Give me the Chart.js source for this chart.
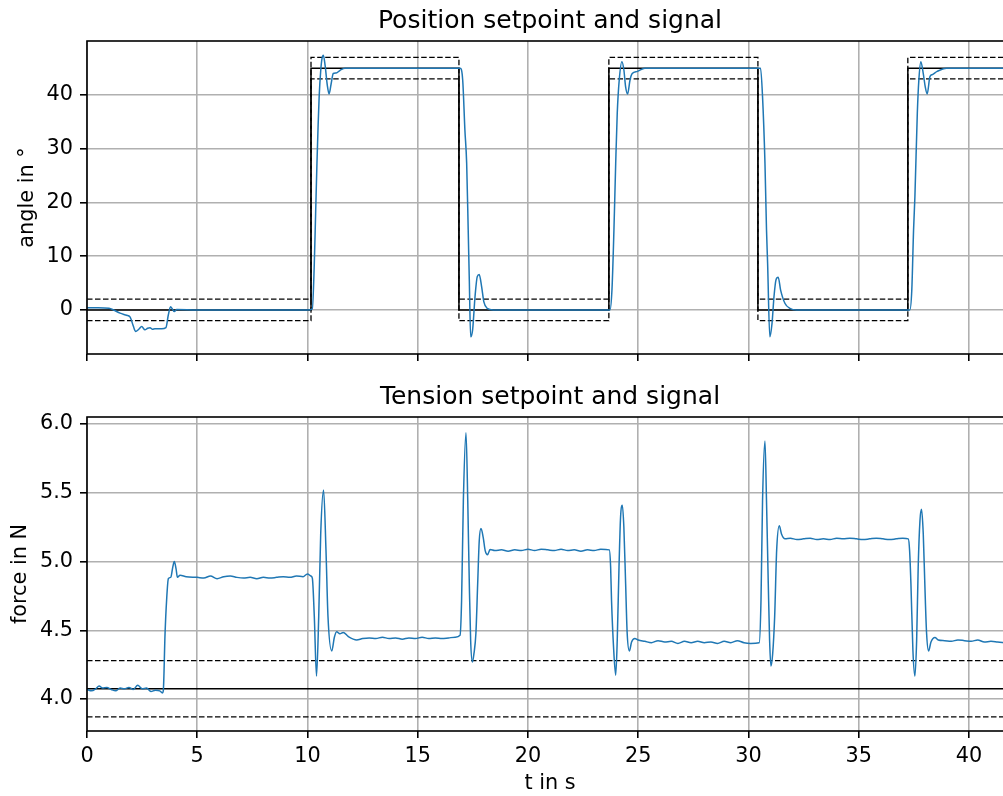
<!DOCTYPE html>
<html>
<head>
<meta charset="utf-8">
<title>Position and tension setpoint and signal</title>
<script src="https://cdn.jsdelivr.net/npm/chart.js@4.4.1/dist/chart.umd.min.js"></script>
<style>
  html, body { margin: 0; padding: 0; background: #fff; overflow: hidden; }
  body { width: 1003px; height: 796px; position: relative; }
  canvas { position: absolute; left: 0; }
  #posChart { top: 0; }
  #tenChart { top: 376px; }
</style>
</head>
<body>
<canvas id="posChart" width="1013" height="376"></canvas>
<canvas id="tenChart" width="1013" height="420"></canvas>
<script>
// x axis ticks (seconds)
const timeTicks = [0, 5, 10, 15, 20, 25, 30, 35, 40];
const angleTicks = [0, 10, 20, 30, 40];
const forceTicks = [4.0, 4.5, 5.0, 5.5, 6.0];

// Position setpoint and tolerance band (step times in s, angle in deg)
const posSpT = [0, 10.16, 10.16, 16.87, 16.87, 23.67, 23.67, 30.43, 30.43, 37.23, 37.23, 42];
const posSp  = [0, 0, 45, 45, 0, 0, 45, 45, 0, 0, 45, 45];
const posUp  = [2, 2, 47, 47, 2, 2, 47, 47, 2, 2, 47, 47];
const posLo  = [-2, -2, 43, 43, -2, -2, 43, 43, -2, -2, 43, 43];

// Position signal
const posT = [0, 0.5, 1.0, 1.2, 1.5, 1.8, 1.95, 2.1, 2.2, 2.35, 2.48, 2.63, 2.75, 2.86, 2.97, 3.08, 3.2, 3.39, 3.58, 3.69, 3.79, 3.96, 4.07, 5, 6, 7, 8, 9, 10, 10.22,
  10.31, 10.37, 10.43, 10.48, 10.53, 10.6, 10.66, 10.72, 10.8, 10.9, 10.98, 11.07, 11.17, 11.3, 11.48, 11.7, 13, 15,
  16.93, 17.04, 17.14, 17.22, 17.29, 17.34, 17.4, 17.49, 17.6, 17.7, 17.79, 17.9, 18.0, 18.15, 18.43, 20, 22,
  23.72, 23.81, 23.9, 23.98, 24.05, 24.14, 24.26, 24.35, 24.43, 24.52, 24.63, 24.73, 24.96, 25.3, 27, 29,
  30.55, 30.64, 30.75, 30.82, 30.87, 30.97, 31.07, 31.16, 31.25, 31.35, 31.46, 31.66, 31.88, 32.19, 34, 36,
  37.32, 37.41, 37.49, 37.55, 37.66, 37.73, 37.82, 37.93, 38.02, 38.11, 38.23, 38.34, 38.56, 38.99, 40.5, 42];
const posA = [0.4, 0.4, 0.3, 0.0, -0.6, -1.0, -1.3, -3.0, -4.0, -3.6, -3.1, -3.7, -3.4, -3.3, -3.6, -3.5, -3.5, -3.5, -3.3, -0.9, 0.6, -0.3, 0.1, 0, 0, 0, 0, 0, 0, 0.2,
  8.7, 18, 27.3, 34, 39.7, 44.5, 46.8, 47.4, 45.5, 41.8, 40.2, 42, 44.0, 44.1, 44.6, 45, 45, 45,
  45, 42.8, 33.5, 27.3, 14.9, 5.6, -5.0, -3.7, 2.5, 6.2, 6.6, 4.3, 1.5, 0.3, 0, 0, 0,
  0, 3.7, 14.9, 27.3, 36.6, 42.8, 46.2, 44.7, 41.5, 40.2, 42.8, 44.0, 44.4, 45, 45, 45,
  45, 39.7, 27.3, 14.9, 8.7, -5.0, -2.5, 2.5, 5.6, 6.1, 3.7, 1.2, 0.3, 0, 0, 0,
  0, 3.7, 14.9, 21, 36.6, 42.8, 46.2, 44.0, 41.5, 40.2, 43.4, 43.8, 44.4, 45, 45, 45];

// Tension setpoint and +-5 % band (N)
const tenSpT = [0, 42];
const tenSp  = [4.075, 4.075];
const tenUp  = [4.28, 4.28];
const tenLo  = [3.87, 3.87];

// Tension signal
const tenT = [0, 0.2, 0.4, 0.55, 0.7, 0.9, 1.1, 1.3, 1.5, 1.7, 1.9, 2.1, 2.3, 2.5, 2.7, 2.9, 3.1, 3.3, 3.42, 3.46,
  3.54, 3.61, 3.69, 3.8, 3.89, 3.96, 4.04, 4.1, 4.22,
  4.5, 5.0, 5.3, 5.6, 5.9, 6.2, 6.5, 6.8, 7.1, 7.4, 7.7, 8.0, 8.3, 8.6, 8.9, 9.2, 9.5, 9.8, 10.0, 10.15,
  10.22, 10.31, 10.41, 10.51, 10.6, 10.73, 10.84, 10.93, 11.1, 11.22, 11.32, 11.47, 11.62, 11.85, 12.23,
  12.5, 12.8, 13.1, 13.4, 13.7, 14.0, 14.3, 14.6, 14.9, 15.2, 15.5, 15.8, 16.1, 16.4, 16.7, 16.92,
  16.99, 17.07, 17.19, 17.27, 17.34, 17.4, 17.48, 17.55, 17.64, 17.72, 17.79, 17.87, 17.97, 18.06, 18.17, 18.28,
  18.5, 18.8, 19.1, 19.4, 19.7, 20.0, 20.3, 20.6, 20.9, 21.2, 21.5, 21.8, 22.1, 22.4, 22.7, 23.0, 23.3, 23.69,
  23.75, 23.79, 23.89, 23.98, 24.05, 24.13, 24.2, 24.28, 24.35, 24.43, 24.5, 24.6, 24.7, 24.85, 25.0,
  25.3, 25.6, 25.9, 26.2, 26.5, 26.8, 27.1, 27.4, 27.7, 28.0, 28.3, 28.6, 28.9, 29.2, 29.5, 29.8, 30.1, 30.49,
  30.57, 30.64, 30.75, 30.82, 30.9, 30.96, 31.02, 31.1, 31.19, 31.28, 31.4, 31.5, 31.66,
  31.9, 32.2, 32.5, 32.8, 33.1, 33.4, 33.7, 34.0, 34.3, 34.6, 34.9, 35.2, 35.5, 35.8, 36.1, 36.4, 36.7, 37.0, 37.25,
  37.31, 37.37, 37.46, 37.55, 37.63, 37.7, 37.78, 37.85, 37.93, 38.0, 38.08, 38.17, 38.28, 38.46, 38.61,
  38.9, 39.2, 39.5, 39.8, 40.1, 40.4, 40.7, 41.0, 41.3, 41.6, 42];
const tenF = [4.07, 4.06, 4.075, 4.095, 4.08, 4.085, 4.07, 4.06, 4.08, 4.075, 4.085, 4.07, 4.1, 4.075, 4.08, 4.055, 4.065, 4.06, 4.045, 4.06,
  4.476, 4.717, 4.875, 4.886, 4.96, 5.0, 4.947, 4.886, 4.9,
  4.89, 4.885, 4.88, 4.895, 4.875, 4.89, 4.895, 4.885, 4.88, 4.885, 4.875, 4.885, 4.88, 4.885, 4.89, 4.885, 4.895, 4.89, 4.91, 4.895,
  4.88, 4.6, 4.167, 4.6, 5.2, 5.52, 5.08, 4.6, 4.35, 4.45, 4.49, 4.475, 4.485, 4.455, 4.43,
  4.44, 4.445, 4.44, 4.45, 4.44, 4.445, 4.435, 4.445, 4.44, 4.45, 4.44, 4.445, 4.44, 4.445, 4.45, 4.464,
  4.717, 5.44, 5.937, 5.44, 4.84, 4.43, 4.27, 4.33, 4.48, 4.84, 5.15, 5.24, 5.176, 5.08, 5.05, 5.087,
  5.08, 5.085, 5.075, 5.085, 5.08, 5.09, 5.08, 5.09, 5.085, 5.08, 5.09, 5.08, 5.085, 5.075, 5.085, 5.08, 5.09, 5.085,
  4.96, 4.72, 4.355, 4.174, 4.43, 4.96, 5.32, 5.41, 5.25, 4.84, 4.48, 4.35, 4.415, 4.44, 4.43,
  4.42, 4.41, 4.425, 4.415, 4.42, 4.405, 4.42, 4.41, 4.42, 4.41, 4.415, 4.405, 4.42, 4.41, 4.425, 4.41, 4.405, 4.41,
  4.717, 5.44, 5.877, 5.44, 4.84, 4.43, 4.24, 4.33, 4.6, 5.08, 5.26, 5.2, 5.165,
  5.17, 5.16, 5.165, 5.17, 5.16, 5.165, 5.16, 5.17, 5.165, 5.17, 5.165, 5.16, 5.165, 5.17, 5.165, 5.16, 5.165, 5.17, 5.165,
  5.08, 4.84, 4.355, 4.167, 4.43, 4.96, 5.297, 5.38, 5.2, 4.84, 4.48, 4.35, 4.415, 4.447, 4.43,
  4.425, 4.42, 4.43, 4.425, 4.42, 4.43, 4.415, 4.42, 4.415, 4.41, 4.415];

const FONT = 'DejaVu Sans';
const BLUE = '#1f77b4';
const GRID = '#b0b0b0';

const toPoints = (xs, ys) => xs.map((x, i) => ({x: x, y: ys[i]}));

// matplotlib style frame round the axes
const frame = {
  id: 'frame',
  afterDatasetsDraw(chart) {
    const {ctx, chartArea: a} = chart;
    ctx.save();
    ctx.strokeStyle = '#000';
    ctx.lineWidth = 1.6;
    ctx.strokeRect(a.left, a.top, a.right - a.left, a.bottom - a.top);
    ctx.restore();
  }
};

function lineSet(xs, ys, color, width, dash, smooth) {
  return {
    data: toPoints(xs, ys),
    borderColor: color,
    borderWidth: width,
    borderDash: dash || [],
    pointRadius: 0,
    tension: 0,
    cubicInterpolationMode: smooth ? 'monotone' : 'default',
    fill: false
  };
}

function makeOptions(opt) {
  return {
    responsive: false,
    animation: false,
    events: [],
    layout: {padding: {left: 0, right: 0, top: 0, bottom: opt.padBottom}},
    plugins: {
      legend: {display: false},
      tooltip: {enabled: false},
      title: {
        display: true,
        text: opt.title,
        fullSize: false,
        color: '#000',
        font: {family: FONT, size: 25, weight: 'normal'},
        padding: {top: 6, bottom: 5}
      }
    },
    scales: {
      x: {
        type: 'linear',
        min: 0,
        max: 42,
        afterBuildTicks: s => { s.ticks = timeTicks.map(v => ({value: v})); },
        afterFit: s => { s.height = opt.xHeight; },
        grid: {color: GRID, lineWidth: 1.6, drawTicks: true, tickLength: 7, tickColor: '#000', tickWidth: 1.6},
        border: {display: false},
        ticks: {display: opt.showX, autoSkip: false, maxRotation: 0, padding: 6, color: '#000',
                font: {family: FONT, size: 20.8}},
        title: {display: opt.showX, text: 't in s', color: '#000',
                font: {family: FONT, size: 20.8}, padding: {top: 4, bottom: 0}}
      },
      y: {
        type: 'linear',
        min: opt.yMin,
        max: opt.yMax,
        afterBuildTicks: s => { s.ticks = opt.yTicks.map(v => ({value: v})); },
        afterFit: s => { s.width = 87; },
        grid: {color: GRID, lineWidth: 1.6, drawTicks: true, tickLength: 7, tickColor: '#000', tickWidth: 1.6},
        border: {display: false},
        ticks: {padding: 7, color: '#000', font: {family: FONT, size: 20.8}, callback: opt.fmt},
        title: {display: true, text: opt.yLabel, color: '#000',
                font: {family: FONT, size: 20.8}, padding: {top: opt.yTitlePad, bottom: 0}}
      }
    }
  };
}

new Chart(document.getElementById('posChart'), {
  type: 'line',
  data: {
    datasets: [
      lineSet(posT, posA, BLUE, 1.5, null, true),
      lineSet(posSpT, posSp, '#000', 1.5),
      lineSet(posSpT, posUp, '#000', 1.3, [5.5, 2.5]),
      lineSet(posSpT, posLo, '#000', 1.3, [5.5, 2.5])
    ]
  },
  options: makeOptions({
    title: 'Position setpoint and signal',
    yLabel: 'angle in °',
    yMin: -8.2, yMax: 50.05,
    yTicks: angleTicks,
    fmt: v => String(v),
    showX: false,
    xHeight: 7,
    padBottom: 15,
    yTitlePad: 15
  }),
  plugins: [frame]
});

new Chart(document.getElementById('tenChart'), {
  type: 'line',
  data: {
    datasets: [
      lineSet(tenT, tenF, BLUE, 1.5, null, true),
      lineSet(tenSpT, tenSp, '#000', 1.5),
      lineSet(tenSpT, tenUp, '#000', 1.3, [5.5, 2.5]),
      lineSet(tenSpT, tenLo, '#000', 1.3, [5.5, 2.5])
    ]
  },
  options: makeOptions({
    title: 'Tension setpoint and signal',
    yLabel: 'force in N',
    yMin: 3.768, yMax: 6.051,
    yTicks: forceTicks,
    fmt: v => v.toFixed(1),
    showX: true,
    xHeight: 65,
    padBottom: 0,
    yTitlePad: 8
  }),
  plugins: [frame]
});
</script>
</body>
</html>
